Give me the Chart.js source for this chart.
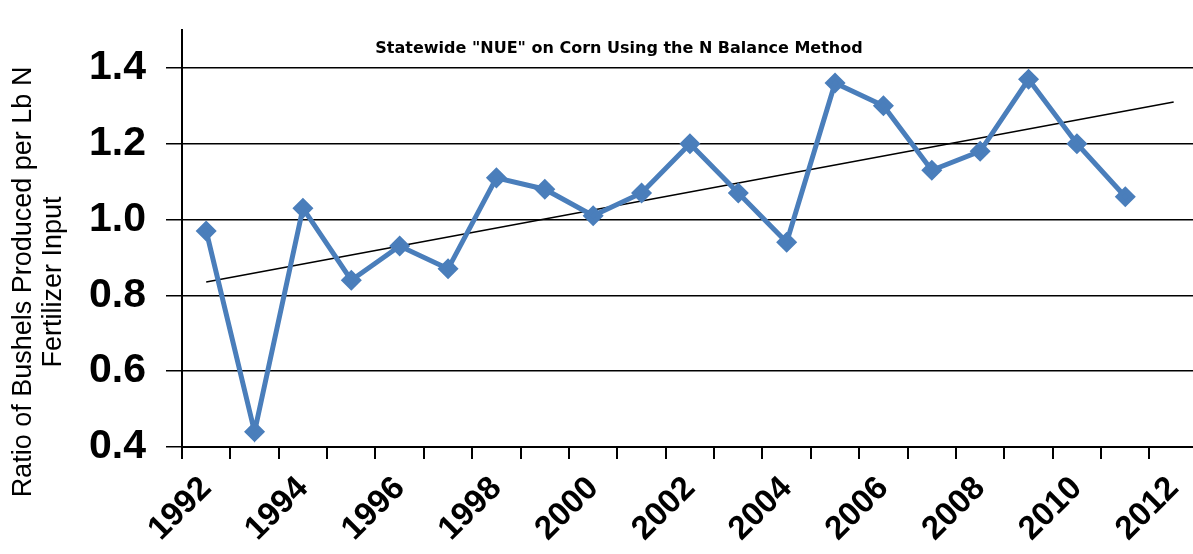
<!DOCTYPE html>
<html>
<head>
<meta charset="utf-8">
<script src="https://cdn.jsdelivr.net/npm/chart.js@4/dist/chart.umd.min.js"></script>
<style>
    html, body { margin: 0; padding: 0; background: #fff; overflow: hidden; }
    #wrap { width: 1193px; height: 554px; overflow: hidden; }
</style>
</head>
<body>
<div id="wrap">
    <canvas id="nueChart" width="1212" height="554"></canvas>
</div>
<script>
    // years on the x axis (2012 only carries the trend end)
    const years = ['1992', '1993', '1994', '1995', '1996', '1997', '1998', '1999', '2000', '2001',
        '2002', '2003', '2004', '2005', '2006', '2007', '2008', '2009', '2010', '2011', '2012'];

    // bushels per lb N
    const nueValues = [0.97, 0.44, 1.03, 0.84, 0.93, 0.87, 1.11, 1.08, 1.01, 1.07,
        1.20, 1.07, 0.94, 1.36, 1.30, 1.13, 1.18, 1.37, 1.20, 1.06, null];

    // linear trend, only the two ends are drawn
    const trendValues = [0.835, null, null, null, null, null, null, null, null, null,
        null, null, null, null, null, null, null, null, null, null, 1.31];

    const yTicks = [0.4, 0.6, 0.8, 1.0, 1.2, 1.4];

    const chartTitle = 'Statewide "NUE" on Corn Using the N Balance Method';
    const yTitle = ['Ratio of Bushels Produced per Lb N', 'Fertilizer Input'];

    // draws the overlay title and the y axis title where the original has them
    const textPlugin = {
        id: 'textPlugin',
        afterDraw(chart) {
            let ctx = chart.ctx;
            ctx.save();
            ctx.fillStyle = '#000';
            ctx.textAlign = 'center';
            ctx.textBaseline = 'middle';
            ctx.font = 'bold 16px "Comic Sans MS", "DejaVu Sans", sans-serif';
            ctx.fillText(chartTitle, 619, 49);

            ctx.translate(0, 282);
            ctx.rotate(-Math.PI / 2);
            ctx.font = '27px "Liberation Sans", Arial, sans-serif';
            ctx.fillText(yTitle[0], 0, 24);
            ctx.fillText(yTitle[1], 0, 54);
            ctx.restore();
        }
    };

    const ctx = document.getElementById('nueChart').getContext('2d');
    const nueChart = new Chart(ctx, {
        type: 'line',
        data: {
            labels: years,
            datasets: [{
                data: nueValues,
                borderColor: '#4a7ebb',
                backgroundColor: '#4a7ebb',
                borderWidth: 5,
                pointStyle: 'rectRot',
                pointRadius: 7,
                pointHoverRadius: 7,
                tension: 0,
                order: 1
            }, {
                data: trendValues,
                borderColor: '#000',
                borderWidth: 1.5,
                pointRadius: 0,
                spanGaps: true,
                order: 2
            }]
        },
        options: {
            responsive: false,
            animation: false,
            devicePixelRatio: 1,
            layout: {
                padding: { top: 30, right: 14, bottom: 0, left: 0 }
            },
            plugins: {
                legend: { display: false },
                tooltip: { enabled: false }
            },
            scales: {
                x: {
                    type: 'category',
                    offset: true,
                    afterFit: scale => { scale.height = 107; },
                    grid: {
                        offset: true,
                        drawOnChartArea: false,
                        drawTicks: true,
                        tickLength: 12,
                        color: '#000',
                        lineWidth: 2
                    },
                    border: { color: '#000', width: 2 },
                    ticks: {
                        autoSkip: false,
                        maxRotation: 45,
                        minRotation: 45,
                        padding: 10,
                        color: '#000',
                        font: { family: '"Liberation Sans", Arial, sans-serif', size: 33, weight: 'bold' },
                        callback: function (value, index) {
                            return index % 2 == 0 ? years[index] : '';
                        }
                    }
                },
                y: {
                    min: 0.4,
                    max: 1.5,
                    afterFit: scale => {
                        scale.width = 182;
                        scale.paddingTop = 0;
                        scale.paddingBottom = 0;
                    },
                    afterBuildTicks: scale => {
                        scale.ticks = yTicks.map(v => ({ value: v }));
                    },
                    grid: {
                        color: '#000',
                        lineWidth: 1.5,
                        tickLength: 16
                    },
                    border: { color: '#000', width: 2 },
                    ticks: {
                        padding: 20,
                        color: '#000',
                        font: { family: '"Liberation Sans", Arial, sans-serif', size: 41, weight: 'bold' },
                        callback: v => v.toFixed(1)
                    }
                }
            }
        },
        plugins: [textPlugin]
    });
</script>
</body>
</html>
